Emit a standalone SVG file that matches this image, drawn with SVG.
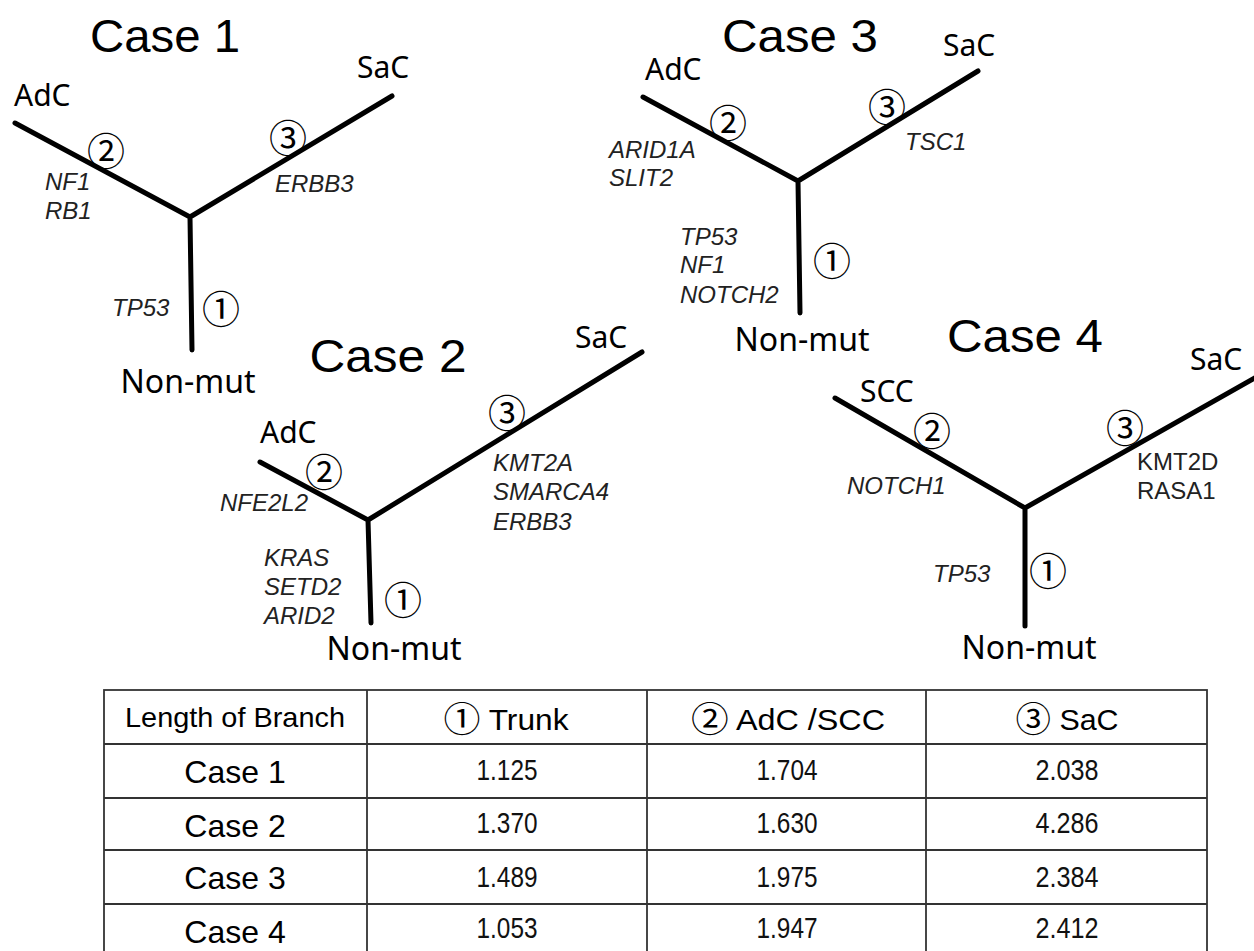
<svg xmlns="http://www.w3.org/2000/svg" width="1254" height="951" viewBox="0 0 1254 951">
<style>
.title{font-family:"Liberation Sans",Arial,sans-serif;font-size:46px;fill:#000;text-anchor:middle}
.lab{font-family:"Noto Sans","DejaVu Sans",sans-serif;font-size:30px;fill:#000}
.nm{font-family:"Noto Sans","DejaVu Sans",sans-serif;font-size:32px;fill:#000;text-anchor:middle}
.gene{font-family:"Liberation Sans",Arial,sans-serif;font-size:24px;font-style:italic;fill:#222}
.geneu{font-family:"Liberation Sans",Arial,sans-serif;font-size:24px;fill:#222}
.circ{font-family:"Noto Sans CJK JP","DejaVu Sans",sans-serif;font-size:38px;fill:#000;text-anchor:middle}
.br{stroke:#000;stroke-width:5;fill:none;stroke-linecap:round;stroke-linejoin:round}
.th{font-family:"Liberation Sans",Arial,"Noto Sans CJK JP",sans-serif;font-size:30px;fill:#000;text-anchor:middle}
.hc{font-family:"Noto Sans CJK JP","DejaVu Sans",sans-serif;font-size:35px}
.rc{font-family:"Liberation Sans",Arial,sans-serif;font-size:32px;fill:#000;text-anchor:middle}
.th2{font-family:"Liberation Sans",Arial,sans-serif;font-size:28px;fill:#000;text-anchor:middle}
.val{font-family:"Liberation Sans",Arial,sans-serif;font-size:29px;fill:#111;text-anchor:middle}
.grid{stroke:#333;stroke-width:1.8;fill:none}
</style>
<rect width="1254" height="951" fill="#fff"/>
<g id="connectors">
<path class="br" d="M15,123 L190,217 L392,96 M190,217 L192,350"/>
<path class="br" d="M643,97 L798,181 L978,71 M798,181 L800,313"/>
<path class="br" d="M260,462 L368,520 L642,352 M368,520 L371,623"/>
<path class="br" d="M835,398 L1025,508 L1258,376 M1025,508 L1025,626"/>
</g>
<g id="case1">
<text class="title" x="165" y="52" textLength="150" lengthAdjust="spacingAndGlyphs">Case 1</text>
<text class="lab" x="14" y="106">AdC</text>
<text class="lab" x="357" y="78">SaC</text>
<text class="circ" x="106" y="164.5">②</text>
<text class="circ" x="288" y="151.5">③</text>
<text class="circ" x="221" y="322.5">①</text>
<text class="gene" x="45" y="190">NF1</text>
<text class="gene" x="45" y="219">RB1</text>
<text class="gene" x="275" y="192">ERBB3</text>
<text class="gene" x="112" y="316">TP53</text>
<text class="nm" x="188" y="393">Non-mut</text>
</g>
<g id="case3">
<text class="title" x="800" y="52" textLength="156" lengthAdjust="spacingAndGlyphs">Case 3</text>
<text class="lab" x="645" y="80">AdC</text>
<text class="lab" x="943" y="56">SaC</text>
<text class="circ" x="728" y="136.5">②</text>
<text class="circ" x="887" y="120.5">③</text>
<text class="circ" x="832" y="274.5">①</text>
<text class="gene" x="609" y="158">ARID1A</text>
<text class="gene" x="609" y="186">SLIT2</text>
<text class="gene" x="905" y="150">TSC1</text>
<text class="gene" x="680" y="245">TP53</text>
<text class="gene" x="680" y="273">NF1</text>
<text class="gene" x="680" y="303">NOTCH2</text>
<text class="nm" x="802" y="351">Non-mut</text>
</g>
<g id="case2">
<text class="title" x="388" y="372" textLength="157" lengthAdjust="spacingAndGlyphs">Case 2</text>
<text class="lab" x="575" y="348">SaC</text>
<text class="lab" x="260" y="443">AdC</text>
<text class="circ" x="324" y="485.5">②</text>
<text class="circ" x="507" y="426.5">③</text>
<text class="circ" x="403" y="613.5">①</text>
<text class="gene" x="220" y="511">NFE2L2</text>
<text class="gene" x="493" y="471">KMT2A</text>
<text class="gene" x="493" y="500">SMARCA4</text>
<text class="gene" x="493" y="530">ERBB3</text>
<text class="gene" x="264" y="566">KRAS</text>
<text class="gene" x="264" y="595">SETD2</text>
<text class="gene" x="264" y="624">ARID2</text>
<text class="nm" x="394" y="660">Non-mut</text>
</g>
<g id="case4">
<text class="title" x="1025" y="352" textLength="156" lengthAdjust="spacingAndGlyphs">Case 4</text>
<text class="lab" x="1190" y="370">SaC</text>
<text class="lab" x="860" y="402">SCC</text>
<text class="circ" x="932" y="444.5">②</text>
<text class="circ" x="1125" y="441.5">③</text>
<text class="circ" x="1048" y="584.5">①</text>
<text class="gene" x="847" y="494">NOTCH1</text>
<text class="geneu" x="1137" y="470">KMT2D</text>
<text class="geneu" x="1137" y="499">RASA1</text>
<text class="gene" x="933" y="582">TP53</text>
<text class="nm" x="1029" y="659">Non-mut</text>
</g>
<g id="table">
<rect class="grid" x="104" y="690" width="1103" height="270"/>
<path class="grid" d="M367,690 V960 M647,690 V960 M926,690 V960 M104,744 H1207 M104,798 H1207 M104,850 H1207 M104,904 H1207"/>
<text class="th2" x="235" y="727" textLength="220" lengthAdjust="spacingAndGlyphs">Length of Branch</text>
<text class="th" x="506" y="730" textLength="125" lengthAdjust="spacingAndGlyphs"><tspan class="hc" dy="2">①</tspan><tspan dy="-2"> Trunk</tspan></text>
<text class="th" x="788" y="730" textLength="194" lengthAdjust="spacingAndGlyphs"><tspan class="hc" dy="2">②</tspan><tspan dy="-2"> AdC /SCC</tspan></text>
<text class="th" x="1067" y="730" textLength="103" lengthAdjust="spacingAndGlyphs"><tspan class="hc" dy="2">③</tspan><tspan dy="-2"> SaC</tspan></text>
<text class="rc" x="235" y="783">Case 1</text>
<text class="rc" x="235" y="837">Case 2</text>
<text class="rc" x="235" y="889">Case 3</text>
<text class="rc" x="235" y="943">Case 4</text>
<text class="val" x="507" y="780" textLength="61" lengthAdjust="spacingAndGlyphs">1.125</text>
<text class="val" x="787" y="780" textLength="61" lengthAdjust="spacingAndGlyphs">1.704</text>
<text class="val" x="1067" y="780" textLength="63" lengthAdjust="spacingAndGlyphs">2.038</text>
<text class="val" x="507" y="833" textLength="61" lengthAdjust="spacingAndGlyphs">1.370</text>
<text class="val" x="787" y="833" textLength="61" lengthAdjust="spacingAndGlyphs">1.630</text>
<text class="val" x="1067" y="833" textLength="63" lengthAdjust="spacingAndGlyphs">4.286</text>
<text class="val" x="507" y="887" textLength="61" lengthAdjust="spacingAndGlyphs">1.489</text>
<text class="val" x="787" y="887" textLength="61" lengthAdjust="spacingAndGlyphs">1.975</text>
<text class="val" x="1067" y="887" textLength="63" lengthAdjust="spacingAndGlyphs">2.384</text>
<text class="val" x="507" y="938" textLength="61" lengthAdjust="spacingAndGlyphs">1.053</text>
<text class="val" x="787" y="938" textLength="61" lengthAdjust="spacingAndGlyphs">1.947</text>
<text class="val" x="1067" y="938" textLength="63" lengthAdjust="spacingAndGlyphs">2.412</text>
</g>
</svg>
